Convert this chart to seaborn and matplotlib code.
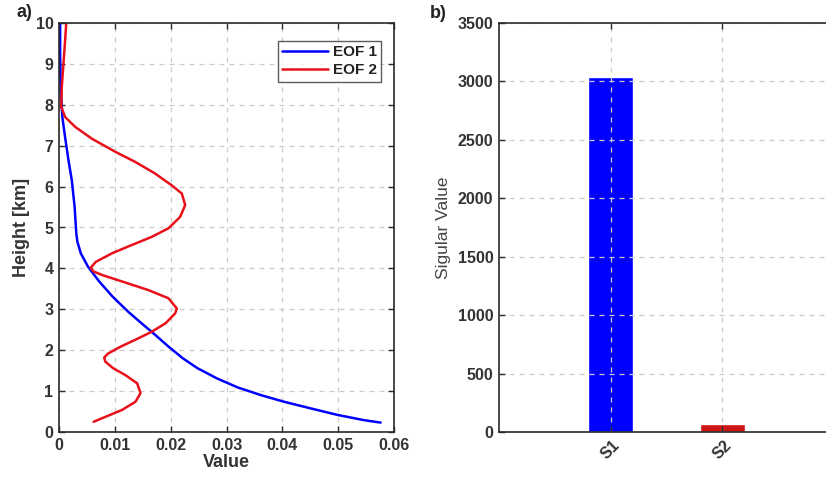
import numpy as np
import pandas as pd
import matplotlib
matplotlib.use("Agg")
import matplotlib.pyplot as plt
import seaborn as sns

# ---- data ----
eof1_height = [0.23, 0.29, 0.42, 0.58, 0.74, 0.90, 1.09, 1.31, 1.56, 1.80, 2.09,
               2.45, 2.62, 2.94, 3.31, 3.68, 4.04, 4.37, 4.65, 4.85, 5.06, 5.50, 6.15,
               6.64, 7.20, 7.70, 8.44, 9.26, 10.0]
eof1 = [0.0576, 0.0546, 0.0498, 0.0450, 0.0403, 0.0362, 0.0320, 0.0283, 0.0248,
        0.0222, 0.0196, 0.0166, 0.0151, 0.0124, 0.0096, 0.0072, 0.0052, 0.0039, 0.0033,
        0.0031, 0.0030, 0.0028, 0.0023, 0.0017, 0.0011, 0.0006, 0.0003, 0.0002, 0.0002]
eof2_height = [0.25, 0.37, 0.54, 0.74, 0.95, 1.19, 1.39, 1.56, 1.72, 1.82, 1.92, 2.09, 2.29,
               2.45, 2.66, 2.90, 3.02, 3.27, 3.47, 3.68, 3.84, 3.93, 4.02, 4.16, 4.37, 4.57,
               4.77, 4.98, 5.26, 5.55, 5.83, 6.03, 6.32, 6.60, 6.85, 7.17, 7.46, 7.70,
               7.95, 8.44, 9.01, 9.58, 10.0]
eof2 = [0.0062, 0.0083, 0.0113, 0.0137, 0.0146, 0.0140, 0.0119, 0.0097, 0.0083, 0.0081,
        0.0088, 0.0111, 0.0142, 0.0166, 0.0191, 0.0208, 0.0211, 0.0196, 0.0160, 0.0113,
        0.0077, 0.0061, 0.0057, 0.0066, 0.0095, 0.0130, 0.0166, 0.0196, 0.0217, 0.0226,
        0.0220, 0.0202, 0.0172, 0.0137, 0.0101, 0.0059, 0.0029, 0.0011, 0.0004, 0.0005,
        0.0008, 0.0011, 0.0013]
sv_labels = ["S1", "S2"]
sv_values = [3040, 65]

sns.set_theme(style="white")
plt.rcParams['font.family'] = ['Liberation Sans', 'DejaVu Sans']

fig = plt.figure(figsize=(8.26, 4.9), dpi=100)
ax1 = fig.add_axes([59/826, 58/490, 335/826, 409/490])
ax2 = fig.add_axes([499/826, 58/490, 335/826, 409/490])

tick_color = '#333333'
grid_kw = dict(color='#cccccc', linestyle=(0, (4, 4)), linewidth=0.9)

# ---- panel a ----
df = pd.DataFrame({"height": eof1_height + eof2_height,
                   "value": eof1 + eof2,
                   "EOF": ["EOF 1"] * len(eof1) + ["EOF 2"] * len(eof2)})
sns.lineplot(data=df, x="value", y="height", hue="EOF", sort=False, estimator=None,
             palette={"EOF 1": "#0000ff", "EOF 2": "#e8101a"}, linewidth=1.8, ax=ax1)
for ln in ax1.lines:
    ln.set_solid_joinstyle('round')
    ln.set_solid_capstyle('round')
ax1.set_xlim(0, 0.06)
ax1.set_ylim(0, 10)
ax1.set_xticks([0, 0.01, 0.02, 0.03, 0.04, 0.05, 0.06])
ax1.set_xticklabels(["0", "0.01", "0.02", "0.03", "0.04", "0.05", "0.06"])
ax1.set_yticks(range(0, 11))
ax1.set_xlabel("Value", fontsize=13, fontweight='bold', color=tick_color, labelpad=1)
ax1.set_ylabel("Height [km]", fontsize=13, fontweight='bold', color=tick_color, labelpad=4)
ax1.grid(True, **grid_kw)
leg = ax1.legend(loc='upper right', fontsize=11, frameon=True, fancybox=False,
                 handlelength=3.0, handletextpad=0.3, borderpad=0.3, labelspacing=0.25,
                 bbox_to_anchor=(0.985, 0.975))
leg.get_frame().set_edgecolor('#333333')
leg.get_frame().set_linewidth(1.0)
for t in leg.get_texts():
    t.set_fontweight('bold')
    t.set_color('#222222')

# ---- panel b ----
dfb = pd.DataFrame({"label": sv_labels, "value": sv_values})
sns.barplot(data=dfb, x="label", y="value", hue="label",
            palette={"S1": "#0000ff", "S2": "#cc1515"}, width=0.4,
            saturation=1, legend=False, ax=ax2)
ax2.set_xlim(-1, 2)
ax2.set_ylim(0, 3500)
ax2.set_yticks(range(0, 3501, 500))
ax2.set_xlabel("")
ax2.set_ylabel("Sigular Value", fontsize=12.5, color='#444444', labelpad=5)
ax2.set_axisbelow(False)
ax2.grid(True, **grid_kw)
for lab in ax2.get_xticklabels():
    lab.set_rotation(45)
    lab.set_fontsize(12)

for ax in (ax1, ax2):
    for s in ax.spines.values():
        s.set_visible(True)
        s.set_color('#2a2a2a')
        s.set_linewidth(1.2)
        s.set_zorder(5)
    ax.tick_params(direction='in', length=4, width=1, colors='#2a2a2a',
                   top=True, right=True, bottom=True, left=True,
                   labelsize=11.5, labelcolor=tick_color, pad=4)
    for lab in ax.get_xticklabels() + ax.get_yticklabels():
        lab.set_fontweight('bold')

fig.text(0.03, 0.975, "a)", fontsize=13, fontweight='bold', color='#222222',
         ha='center', va='center')
fig.text(0.531, 0.972, "b)", fontsize=13, fontweight='bold', color='#222222',
         ha='center', va='center')

fig.savefig("out.png", dpi=100)
